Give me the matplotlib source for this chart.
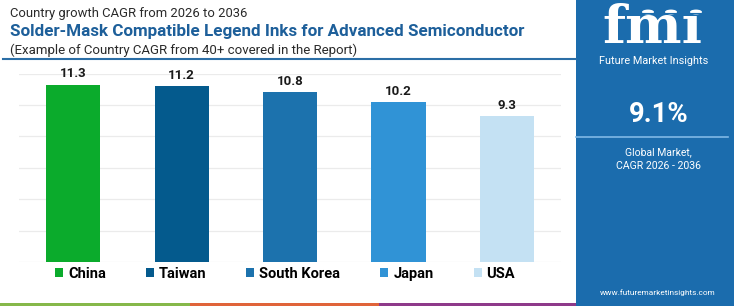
import matplotlib
matplotlib.use('Agg')
import matplotlib.pyplot as plt
import numpy as np
from matplotlib.patches import Rectangle, Circle
from matplotlib.lines import Line2D

countries = ['China', 'Taiwan', 'South Korea', 'Japan', 'USA']
cagr = [11.3, 11.2, 10.8, 10.2, 9.3]
bar_colors = ['#0bab2c', '#045a8d', '#1c72ad', '#3093d6', '#c4e1f3']
global_cagr = '9.1%'
title_top = 'Country growth CAGR from 2026 to 2036'
title_main = 'Solder-Mask Compatible Legend Inks for Advanced Semiconductor'
title_sub = '(Example of Country CAGR from 40+ covered in the Report)'

W, H = 750, 306
PANEL = '#1b6cad'

plt.rcParams['font.family'] = ['Roboto', 'DejaVu Sans']
fig = plt.figure(figsize=(W / 100, H / 100), dpi=100)
renderer = fig.canvas.get_renderer()


def fx(x):
    return x / W


def fy(y):
    return 1 - y / H


def fit(t, width):
    # scale the font so the text spans the given pixel width
    bb = t.get_window_extent(renderer)
    t.set_fontsize(t.get_fontsize() * width / bb.width)


# bar chart
ax = fig.add_axes([fx(19.1), 44 / H, 542 / W, 188.4 / H])
bars = ax.bar(range(len(cagr)), cagr, width=0.5, color=bar_colors, zorder=2)
ax.set_xlim(-0.5, 4.5)
ax.set_ylim(0, 12)
ax.set_yticks(range(0, 13, 2))
ax.grid(axis='y', color='#ebebeb', lw=0.9)
ax.set_axisbelow(True)
ax.tick_params(length=0, labelleft=False, labelbottom=False)
for s in ax.spines.values():
    s.set_visible(False)
vals = ax.bar_label(bars, labels=[f'{v:.1f}' for v in cagr], padding=3,
                    fontsize=9.5, fontweight='bold', color='#1a1a1a')
for t in vals:
    t.set_clip_on(False)

fig.legend(bars.patches, countries, loc='center left',
           bbox_to_anchor=(fx(55), fy(274)), ncol=5, frameon=False,
           handlelength=0.55, handleheight=0.55, handletextpad=0.34,
           columnspacing=2.74, borderpad=0, borderaxespad=0,
           prop={'weight': 'bold', 'size': 10.5})

# titles
t1 = fig.text(fx(10), fy(14), title_top, va='center', fontsize=9, color='#2a2a2a')
t2 = fig.text(fx(10), fy(31.5), title_main, va='center', fontsize=11,
              fontweight='bold', color='#1d5f9a')
t3 = fig.text(fx(10), fy(50), title_sub, va='center', fontsize=9, color='#2a2a2a')
fit(t1, 237)
fit(t2, 513)
fit(t3, 348)

fig.add_artist(Line2D([fx(3), fx(576)], [fy(59), fy(59)], color='#2b6ea6', lw=1.5))

# bottom strip
for x0, x1, c in [(0, 190, '#86b84a'), (190, 379, '#e0643a'), (379, 576, '#8e3a8a')]:
    fig.add_artist(Rectangle((fx(x0), 0), (x1 - x0) / W, 3 / H, color=c, lw=0))

# right panel
fig.add_artist(Rectangle((fx(576), 0), 158 / W, 1, color=PANEL, lw=0))
logo = fig.text(fx(652), fy(54), 'fm\u0131', ha='center', va='bottom',
                fontsize=36, fontweight='bold', family='DejaVu Serif', color='white')
fit(logo, 100)
for y in np.arange(13, 45, 3.2):
    fig.add_artist(Line2D([fx(598), fx(708)], [fy(y), fy(y)], color=PANEL, lw=0.8))
for cx in [648, 671, 696]:
    fig.add_artist(Circle((fx(cx), fy(12)), 6 / W, color='white', lw=0,
                          transform=fig.transFigure))
fi = fig.text(fx(654), fy(61), 'Future Market Insights', ha='center', va='center',
              fontsize=8, color='white')
fit(fi, 109)

g = fig.text(fx(659), fy(115), global_cagr, ha='center', va='center',
             fontsize=20, fontweight='bold', color='white')
fit(g, 60)
fig.add_artist(Line2D([fx(576), fx(728)], [fy(137), fy(137)], color='#7fb8e6', lw=1.2))
gm = fig.text(fx(658), fy(152.7), 'Global Market,', ha='center', va='center',
              fontsize=8, color='white')
fit(gm, 67)
cg = fig.text(fx(658), fy(165.7), 'CAGR 2026 - 2036', ha='center', va='center',
              fontsize=8, color='white')
fit(cg, 85)
ww = fig.text(fx(658), fy(292.7), 'www.futuremarketinsights.com', ha='center',
              va='center', fontsize=7, color='white')
fit(ww, 116)

fig.savefig('out.png', dpi=100)
